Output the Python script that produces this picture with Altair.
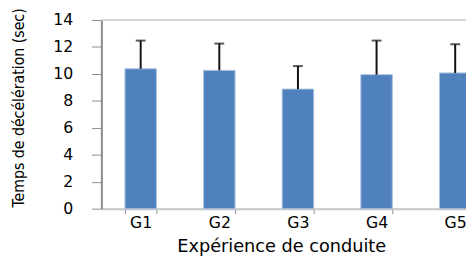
import altair as alt
import pandas as pd

groups = ["G1", "G2", "G3", "G4", "G5"]
means = [10.38, 10.26, 8.87, 9.94, 10.07]
uppers = [12.47, 12.25, 10.58, 12.47, 12.2]
y_ticks = [0, 2, 4, 6, 8, 10, 12, 14]
top_line = [14]

df = pd.DataFrame({"g": groups, "m": means, "u": uppers})
df_top = pd.DataFrame({"t": top_line})

W = 371
FULL = 400
H = 192

xenc = alt.X("g:N", sort=groups,
             scale=alt.Scale(range=[0, FULL], paddingInner=0.6, paddingOuter=0.3),
             axis=alt.Axis(title="Expérience de conduite", labelAngle=0,
                           tickBand="extent", domainColor="#c8c8c8", domainWidth=2,
                           tickColor="#8c8c8c", tickSize=5, tickWidth=1,
                           labelFont="DejaVu Sans", labelFontSize=16, labelColor="#000",
                           labelPadding=1,
                           titleFont="DejaVu Sans", titleFontSize=18, titleFontWeight="normal",
                           titleColor="#000", titleX=183, titleY=44, titleAlign="center",
                           titleBaseline="alphabetic"))

yscale = alt.Scale(domain=[0, 14], nice=False)

yaxis = alt.Axis(title="Temps de décélération (sec)", values=y_ticks,
                 labelOverlap=False,
                 grid=False, domainColor="#8c8c8c", domainWidth=2,
                 tickColor="#8c8c8c", tickSize=10, tickWidth=1,
                 labelFont="DejaVu Sans", labelFontSize=16, labelColor="#000",
                 labelPadding=19,
                 titleFont="'DejaVu Sans Condensed', 'Liberation Sans Narrow', sans-serif",
                 titleFontSize=16,
                 titleFontWeight="normal", titleColor="#000",
                 titleAngle=270, titleX=-84, titleY=89,
                 titleAlign="center", titleBaseline="middle")

base = alt.Chart(df)

bars = base.mark_bar(color="#4F81BD", stroke="#a7bfdf", strokeWidth=1).encode(
    x=xenc,
    y=alt.Y("m:Q", scale=yscale, axis=yaxis))

grid = alt.Chart(df_top).mark_rule(color="#cfcfcf", strokeWidth=1.5).encode(
    y=alt.Y("t:Q", scale=yscale, axis=yaxis), x=alt.value(0), x2=alt.value(FULL))

err = base.mark_rule(color="#111", strokeWidth=2).encode(
    x=alt.X("g:N", sort=groups), y=alt.Y("m:Q", axis=yaxis), y2="u:Q")

caps = base.mark_tick(color="#111", thickness=2, size=10).encode(
    x=alt.X("g:N", sort=groups), y=alt.Y("u:Q", axis=yaxis))

chart = alt.layer(bars, grid, err, caps).properties(
    width=W, height=H,
    autosize=alt.AutoSizeParams(type="none"),
    padding={"left": 95, "top": 10, "right": 0, "bottom": 48},
).configure_view(stroke=None).configure(background="white")

chart.save("out.html", embed_options={"renderer": "svg", "actions": False})
